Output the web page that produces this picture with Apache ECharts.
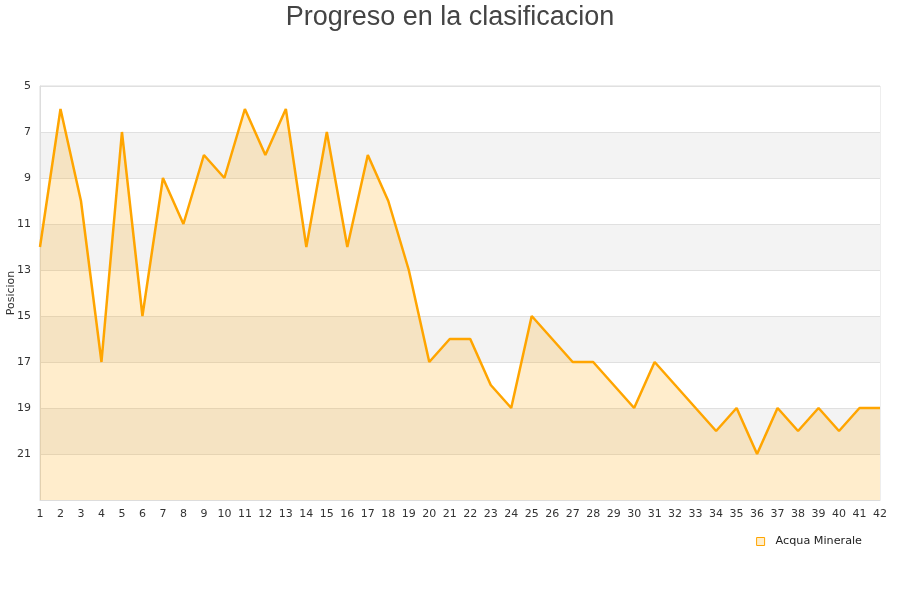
<!DOCTYPE html>
<html><head><meta charset="utf-8">
<script src="https://cdn.jsdelivr.net/npm/echarts@6/dist/echarts.min.js"></script>
<style>html,body{margin:0;padding:0;background:#fff}#c{width:900px;height:600px}</style>
</head><body><div id="c"></div>
<script>
const title = 'Progreso en la clasificacion';
const seriesName = 'Acqua Minerale';
const jornadas = ['1','2','3','4','5','6','7','8','9','10','11','12','13','14','15','16','17','18','19','20','21','22','23','24','25','26','27','28','29','30','31','32','33','34','35','36','37','38','39','40','41','42'];
const posiciones = [12,6,10,17,7,15,9,11,8,9,6,8,6,12,7,12,8,10,13,17,16,16,18,19,15,16,17,17,18,19,17,18,19,20,19,21,19,20,19,20,19,19];

const chart = echarts.init(document.getElementById('c'));
chart.setOption({
  animation: false,
  title: { text: title, left: 'center', top: -1, textStyle: { fontFamily: 'Liberation Sans, Arial, sans-serif', fontSize: 27, fontWeight: 'normal', color: '#444' } },
  grid: { left: 40, right: 20, top: 86, bottom: 100, show: true, borderColor: '#ddd', borderWidth: 1, containLabel: false, outerBoundsMode: 'none' },
  legend: { right: 33, top: 531, icon: 'rect', itemWidth: 8, itemHeight: 8, itemGap: 6,
    textStyle: { fontFamily: 'DejaVu Sans, sans-serif', fontSize: 11.2, color: '#222', padding: [0, 0, 0, 6] },
    data: [{ name: seriesName, itemStyle: { color: '#ffeecc', borderColor: '#ffa500', borderWidth: 1 } }] },
  xAxis: { type: 'category', data: jornadas, boundaryGap: false,
    axisLine: { lineStyle: { color: '#ddd' } }, axisTick: { show: false },
    axisLabel: { interval: 0, fontFamily: 'DejaVu Sans, sans-serif', fontSize: 11, color: '#333', margin: 9 },
    splitLine: { show: false } },
  yAxis: { type: 'value', inverse: true, min: 5, max: 23, interval: 2,
    name: 'Posicion', nameLocation: 'middle', nameGap: 23, nameMoveOverlap: false,
    nameTextStyle: { fontFamily: 'DejaVu Sans, sans-serif', fontSize: 11, color: '#333' },
    axisLine: { show: true, lineStyle: { color: '#ddd' } }, axisTick: { show: false },
    axisLabel: { fontFamily: 'DejaVu Sans, sans-serif', fontSize: 11, color: '#333', margin: 9,
      formatter: v => v === 23 ? '' : String(v) },
    splitLine: { show: true, lineStyle: { color: '#e0e0e0' } },
    splitArea: { show: true, areaStyle: { color: ['#ffffff', '#f3f3f3'] } } },
  series: [{ name: seriesName, type: 'line', data: posiciones, symbol: 'none',
    lineStyle: { color: '#ffa500', width: 2.5 }, itemStyle: { color: '#ffa500' },
    areaStyle: { color: 'rgba(255,165,0,0.2)', opacity: 1, origin: 'end' } }]
});
</script></body></html>
